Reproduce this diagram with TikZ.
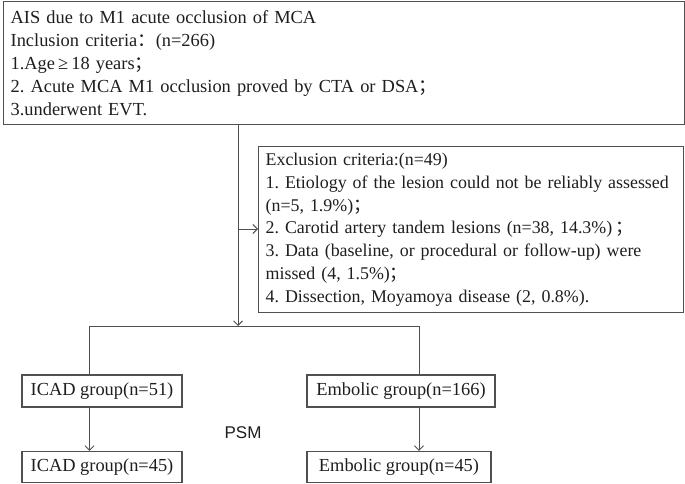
\documentclass[tikz,border=0pt]{standalone}
\usepackage{fontspec}
\setmainfont{Liberation Serif}
\newfontfamily\psmfont{Liberation Sans}
\newfontfamily\cjk{Noto Sans CJK SC}
\newcommand\fsemi{{\cjk ；}}
\newcommand\fcolon{{\cjk ：}}
\usetikzlibrary{arrows.meta}
\definecolor{linec}{HTML}{505050}
\definecolor{txt}{HTML}{1E1E1E}
\frenchspacing
\hyphenpenalty=10000
\begin{document}
\begin{tikzpicture}[x=1pt,y=-1pt,
  box/.style={draw=linec, line width=1.3pt, inner sep=0pt, text=txt,
    font=\fontsize{18.4}{22.8}\selectfont},
  conn/.style={draw=linec, line width=0.9pt},
  arr/.style={conn, -{Straight Barb[length=4.5pt,width=9pt]}}]
\useasboundingbox (0,0) rectangle (685,484);
\node[box, anchor=north west, minimum width=681pt, minimum height=123pt,
  text width=667pt, align=left] (top) at (3,1)
  {AIS due to M1 acute occlusion of MCA\\
   Inclusion criteria\fcolon(n=266)\\
   1.Age\,≥\,18 years\fsemi\\
   2. Acute MCA M1 occlusion proved by CTA or DSA\fsemi\\
   3.underwent EVT.};
\node[box, anchor=north west, minimum width=425pt, minimum height=166pt,
  text width=411pt, align=left, font=\fontsize{17.9}{22.8}\selectfont] (excl) at (258,146)
  {Exclusion criteria:(n=49)\\
   1. Etiology of the lesion could not be reliably assessed\\
   (n=5, 1.9\%)\fsemi\\
   2. Carotid artery tandem lesions (n=38, 14.3\%)\,\fsemi\\
   3. Data (baseline, or procedural or follow-up) were\\
   missed (4, 1.5\%)\fsemi\\
   4. Dissection, Moyamoya disease (2, 0.8\%).};
\node[box, minimum width=160pt, minimum height=32pt] (icad1) at (102,391) {ICAD group(n=51)};
\node[box, minimum width=188pt, minimum height=32pt] (emb1) at (401,391) {Embolic group(n=166)};
\node[box, minimum width=160pt, minimum height=31pt] (icad2) at (102,467) {ICAD group(n=45)};
\node[box, minimum width=184pt, minimum height=31pt] (emb2) at (399,467) {Embolic group(n=45)};
\node[text=txt, font=\psmfont\fontsize{17}{20}\selectfont] (psm) at (243,433) {PSM};
\coordinate (j) at (238,326);
\coordinate (ej) at (238,229);
\coordinate (bl) at (89.5,326);
\coordinate (br) at (419,326);
\draw[arr] (top.south -| j) -- (j);
\draw[arr] (ej) -- (excl.west |- ej);
\draw[conn] (icad1.north -| bl) -- (bl) -- (br) -- (emb1.north -| br);
\draw[arr] (icad1.south -| bl) -- (icad2.north -| bl);
\draw[arr] (emb1.south -| br) -- (emb2.north -| br);
\end{tikzpicture}
\end{document}
